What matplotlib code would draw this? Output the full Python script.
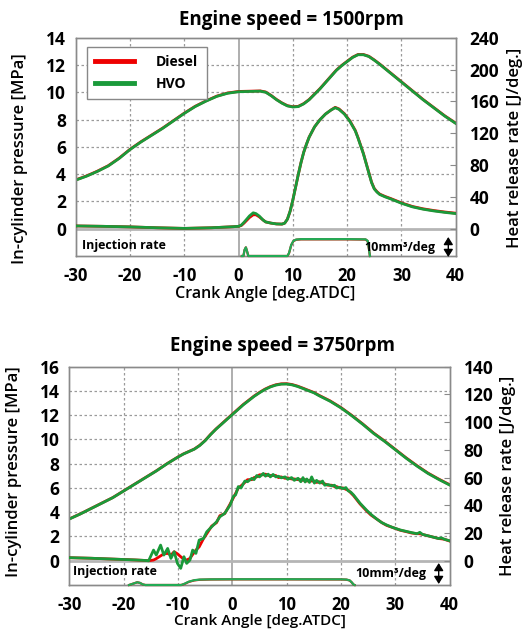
import matplotlib
matplotlib.use("Agg")
import matplotlib.pyplot as plt
from matplotlib.lines import Line2D
from matplotlib.patches import FancyArrowPatch

plt.rcParams['font.family'] = ['Open Sans', 'DejaVu Sans']
plt.rcParams['font.weight'] = 'bold'

# ---------------- data: 1500 rpm ----------------
x_p1 = [-30, -28, -26, -24, -22, -20, -18, -16, -14, -12, -10, -8, -6, -4, -2, 0, 2, 4, 5, 6, 7, 8, 9, 10,
        11, 12, 13, 14, 15, 16, 17, 18, 19, 20, 21, 22, 23, 24, 25, 26, 28, 30, 32, 34, 36, 38, 40]
p1_hvo = [3.56, 3.85, 4.2, 4.6, 5.15, 5.8, 6.35, 6.85, 7.35, 7.9, 8.45, 8.95, 9.35, 9.7, 9.93, 10.04, 10.06,
          10.08, 10.0, 9.75, 9.45, 9.2, 9.0, 8.92, 8.95, 9.15, 9.45, 9.85, 10.25, 10.7, 11.15, 11.6, 11.95,
          12.25, 12.55, 12.75, 12.75, 12.62, 12.35, 12.05, 11.4, 10.75, 10.1, 9.45, 8.85, 8.25, 7.72]
p1_diesel = [3.58, 3.87, 4.22, 4.62, 5.17, 5.82, 6.37, 6.87, 7.37, 7.92, 8.47, 8.97, 9.37, 9.72, 9.95, 10.06,
             10.08, 10.1, 10.02, 9.77, 9.47, 9.22, 9.02, 8.94, 8.97, 9.17, 9.47, 9.87, 10.27, 10.72, 11.17,
             11.62, 11.97, 12.27, 12.57, 12.77, 12.77, 12.64, 12.37, 12.07, 11.42, 10.77, 10.12, 9.47, 8.87,
             8.27, 7.74]

x_q1 = [-30, -25, -20, -15, -10, -5, -1, 0, 0.5, 1, 1.5, 2, 2.7, 3.2, 3.8, 4.5, 5, 6, 7, 8, 8.5, 9, 9.5, 10,
        10.5, 11, 11.5, 12, 12.5, 13, 14, 15, 16, 17, 17.8, 18.5, 19.5, 20.5, 21.5, 22, 22.5, 23, 23.5, 24,
        24.5, 25, 25.5, 26, 27, 28, 30, 32, 34, 36, 38, 40]
q1_hvo = [3.5, 3.0, 2.3, 1.2, 0.4, 1.2, 2.5, 3.0, 4.5, 8, 12, 16, 20, 19, 16, 11, 8.5, 7, 6, 5.8, 7, 12, 22,
          36, 52, 68, 83, 96, 106, 115, 128, 137, 144, 149, 152, 150, 144, 135, 123, 114, 104, 94, 82, 70,
          58, 50, 46, 43, 40, 37.5, 32, 27.5, 24.5, 22.3, 20.5, 19]
q1_diesel = [3.5, 3.0, 2.3, 1.2, 0.4, 1.2, 2.5, 3.0, 4.0, 7, 10.5, 14, 17.5, 17.5, 15, 11, 8.5, 7, 6, 5.8, 7,
             12, 22, 36, 52, 68, 83, 96, 106, 115, 128, 137, 144, 149, 152.5, 150.5, 144.5, 135.5, 123.5,
             114.5, 104.5, 94.5, 82.5, 70.5, 58.5, 50.5, 46.5, 43.5, 40.5, 38, 32.5, 28, 25, 22.8, 21, 19.5]

x_i1 = [0.6, 0.9, 1.1, 1.35, 1.6, 1.8, 2.2, 9.0, 9.3, 9.7, 10.1, 10.6, 11.5, 20, 23.4, 23.8, 24.0, 24.2]
i1_hvo = [0, 0, 3.0, 4.3, 2.0, 0, 0, 0, 1.5, 5.5, 7.5, 8.2, 8.4, 8.4, 8.3, 7.5, 4.0, 0]
i1_diesel = [0, 0, 3.0, 4.3, 2.0, 0, 0, 0, 1.4, 5.4, 7.4, 8.1, 8.3, 8.3, 8.2, 7.4, 3.9, 0]

# ---------------- data: 3750 rpm ----------------
x_p2 = [-30, -28, -26, -24, -22, -20, -18, -16, -14, -12, -10, -9, -8, -7, -6, -5, -4, -3, -2, -1, 0, 1, 2,
        3, 4, 5, 6, 7, 8, 9, 10, 11, 12, 13, 14, 15, 16, 18, 20, 22, 24, 26, 28, 30, 32, 34, 36, 38, 40]
p2_hvo = [3.44, 3.85, 4.3, 4.75, 5.2, 5.75, 6.3, 6.85, 7.4, 8.0, 8.55, 8.8, 9.0, 9.2, 9.5, 9.9, 10.4, 10.85,
          11.25, 11.65, 12.05, 12.45, 12.85, 13.2, 13.55, 13.85, 14.12, 14.33, 14.48, 14.56, 14.57, 14.5,
          14.37, 14.2, 14.02, 13.85, 13.6, 13.15, 12.6, 11.95, 11.25, 10.5, 9.85, 9.15, 8.45, 7.8, 7.2,
          6.7, 6.24]
p2_diesel = [3.45, 3.86, 4.31, 4.76, 5.21, 5.76, 6.31, 6.86, 7.41, 8.01, 8.56, 8.81, 9.01, 9.21, 9.52, 9.92,
             10.42, 10.87, 11.27, 11.68, 12.08, 12.48, 12.88, 13.23, 13.58, 13.88, 14.15, 14.36, 14.51,
             14.59, 14.6, 14.53, 14.4, 14.23, 14.05, 13.88, 13.63, 13.18, 12.63, 11.98, 11.28, 10.53, 9.88,
             9.18, 8.48, 7.83, 7.23, 6.73, 6.27]

x_q2 = [-30, -26, -22, -18, -16, -15.4, -14.5, -14.0, -13.2, -12.6, -11.9, -11.3, -10.7, -10.1, -9.5, -8.9,
        -8.4, -7.8, -7.3, -6.7, -6.1, -5.3, -4.7, -3.8, -2.9, -2.3, -1.4, -0.4, 0.2, 0.6, 1.1, 1.6, 2.3,
        2.8, 3.6, 4.0, 4.5, 5.0, 5.7, 6.1, 6.6, 7.0, 7.5, 8.0, 8.5, 9.0, 9.7, 10.2, 10.9, 11.4, 12.1, 12.6,
        13.0, 13.4, 13.7, 14.2, 14.6, 15.1, 15.5, 16.1, 16.6, 17.0, 17.6, 18.3, 18.8, 19.2, 19.8, 20.4,
        20.9, 21.3, 21.8, 22.3, 23.0, 23.5, 24.1, 24.7, 25.5, 26.6, 27.5, 28.4, 29.5, 30.9, 32.0, 33.0,
        34.0, 34.5, 35.0, 36.0, 37.0, 38.0, 38.5, 39.0, 40.0]
q2_hvo = [2.2, 1.8, 1.2, 0.6, 0.2, 0.0, 7.7, 4.1, 11.3, 4.1, 8.9, 1.7, 6.5, -1.9, -5.5, 2.9, -1.9, 0.5, 7.7,
          5.3, 14.9, 16.1, 20.9, 24.5, 28.1, 31.7, 34.2, 40.2, 46.5, 47.5, 53.5, 52.5, 57.5, 57.0, 59.5,
          58.5, 61.5, 60.5, 63.0, 61.0, 62.5, 60.5, 62.3, 60.5, 61.0, 59.8, 60.5, 58.8, 60.0, 58.0, 59.5,
          57.0, 60.0, 56.8, 59.0, 56.5, 60.5, 56.0, 58.0, 56.0, 57.5, 54.5, 55.0, 54.0, 54.5, 52.5, 53.0,
          52.0, 52.8, 50.5, 49.5, 47.5, 44.0, 41.5, 39.0, 36.5, 33.5, 30.0, 27.5, 25.8, 24.0, 22.2, 21.2,
          20.3, 19.5, 20.5, 19.0, 18.0, 17.0, 16.0, 16.5, 15.5, 14.4]
q2_diesel = [2.2, 1.8, 1.2, 0.6, 0.2, 0.0, 0.5, 1.5, 3.5, 5.0, 5.3, 4.1, 6.5, 5.0, 2.9, 1.0, 0.5, 1.7, 4.5,
             7.7, 10.0, 16.0, 19.5, 25.0, 27.5, 32.5, 34.0, 41.0, 45.5, 48.5, 52.5, 54.0, 56.5, 58.5, 58.5,
             60.0, 60.5, 62.0, 62.0, 62.5, 61.5, 61.5, 61.5, 61.5, 60.0, 60.5, 59.5, 59.8, 59.0, 59.0, 58.5,
             58.5, 58.0, 58.5, 57.5, 58.0, 57.5, 57.5, 56.5, 57.0, 56.0, 55.5, 54.5, 54.5, 53.5, 53.5, 52.5,
             52.5, 51.5, 51.0, 49.0, 47.0, 43.5, 41.0, 38.5, 36.0, 33.0, 30.0, 27.5, 25.5, 24.0, 22.0, 21.0,
             20.0, 19.5, 19.5, 19.0, 18.0, 17.0, 16.0, 15.8, 15.5, 14.2]

x_i2 = [-19.0, -18.3, -17.5, -17.0, -16.5, -16.0, -9.4, -8.8, -8.0, -7.0, -6.0, -4.0, 0, 10, 20, 21.0, 21.6,
        22.0, 22.3, 22.5]
i2_hvo = [0, 0.6, 1.3, 1.0, 0.3, 0, 0, 0.6, 1.6, 2.3, 2.6, 2.7, 2.75, 2.75, 2.7, 2.6, 2.2, 1.2, 0.2, 0]
i2_diesel = [0, 0.6, 1.3, 1.0, 0.3, 0, 0, 0.5, 1.5, 2.2, 2.5, 2.65, 2.7, 2.7, 2.65, 2.55, 2.15, 1.15, 0.2, 0]

x_ticks = [-30, -20, -10, 0, 10, 20, 30, 40]

RED = '#ee0000'
GREEN = '#1a9a3a'
GRID = '#9a9a9a'
SPINE = '#8a8a8a'

W, H = 523, 629
fig = plt.figure(figsize=(W / 100, H / 100), dpi=100)


def px_axes(l, t, r, b):
    return fig.add_axes([l / W, 1 - b / H, (r - l) / W, (b - t) / H])


def make_panel(l, t, r, b, pmax, pticks, qmax, qticks, xp, pd, ph, xq, qd, qh, xi, idl, ih, inj_scale):
    ax = px_axes(l, t, r, b)
    ax.set_xlim(-30, 40)
    ax.set_ylim(-2, pmax)
    frac0 = 2.0 / (pmax + 2.0)
    axr = ax.twinx()
    axr.set_ylim(-qmax * frac0 / (1 - frac0), qmax)

    # grid
    for xv in [-20, -10, 10, 20, 30]:
        ax.axvline(xv, color=GRID, lw=0.9, ls=(0, (2, 2)), zorder=1)
    for yv in pticks[1:-1]:
        ax.axhline(yv, color=GRID, lw=0.9, ls=(0, (2, 2)), zorder=1)
    ax.axvline(0, color='#999999', lw=1.1, zorder=1.5)
    ax.axhline(0, color='#b5b5b5', lw=2.0, zorder=1.5)

    ax.plot(xp, pd, color=RED, lw=2.0, zorder=3)
    ax.plot(xp, ph, color=GREEN, lw=2.0, zorder=4)
    axr.plot(xq, qd, color=RED, lw=2.0, zorder=3)
    axr.plot(xq, qh, color=GREEN, lw=2.0, zorder=4)

    ax.set_xticks(x_ticks)
    ax.set_xticklabels([str(v) for v in x_ticks])
    ax.set_yticks(pticks)
    ax.set_yticklabels([str(v) for v in pticks])
    axr.set_yticks(qticks)
    axr.set_yticklabels([str(v) for v in qticks])
    ax.tick_params(axis='x', length=0, pad=8, labelsize=12)
    ax.tick_params(axis='y', length=0, pad=7, labelsize=12.5)
    axr.tick_params(axis='y', direction='in', length=4, color=SPINE, pad=10, labelsize=12.5)
    for a in (ax, axr):
        for s in a.spines.values():
            s.set_color(SPINE)
            s.set_linewidth(1.0)

    # injection band axes
    band_h = (b - t) * frac0
    axi = px_axes(l, b - band_h, r, b)
    axi.set_xlim(-30, 40)
    axi.set_ylim(0, inj_scale)
    axi.axis('off')
    axi.patch.set_alpha(0)
    axi.plot(xi, idl, color=RED, lw=1.6, clip_on=False)
    axi.plot(xi, ih, color='#22aa55', lw=1.6, clip_on=False)
    return ax, axr


# top panel
ax1, ax1r = make_panel(75.7, 37.7, 455.7, 256.0, 14, [0, 2, 4, 6, 8, 10, 12, 14], 240,
                       [0, 40, 80, 120, 160, 200, 240], x_p1, p1_diesel, p1_hvo, x_q1, q1_diesel, q1_hvo,
                       x_i1, i1_diesel, i1_hvo, 13.6)
# bottom panel
ax2, ax2r = make_panel(69.3, 366.7, 449.7, 585.0, 16, [0, 2, 4, 6, 8, 10, 12, 14, 16], 140,
                       [0, 20, 40, 60, 80, 100, 120, 140], x_p2, p2_diesel, p2_hvo, x_q2, q2_diesel, q2_hvo,
                       x_i2, i2_diesel, i2_hvo, 11.6)

# legend
handles = [Line2D([], [], color=RED, lw=3.5), Line2D([], [], color=GREEN, lw=3.5)]
leg = ax1.legend(handles, ['Diesel', 'HVO'], loc='upper left', bbox_to_anchor=(0.029, 0.959),
                 borderaxespad=0, fancybox=False, framealpha=1, edgecolor='#888888',
                 prop={'size': 10, 'weight': 'bold'}, handlelength=2.8, handletextpad=1.6,
                 borderpad=0.6, labelspacing=0.55)
leg.get_frame().set_linewidth(1.0)
leg.set_zorder(10)


def ftext(x, y, s, **kw):
    fig.text(x / W, 1 - y / H, s, **kw)


# titles and labels
ftext(291, 20, 'Engine speed = 1500rpm', ha='center', va='center', fontsize=13.5, fontweight='bold')
ftext(283, 346, 'Engine speed = 3750rpm', ha='center', va='center', fontsize=13.5, fontweight='bold')
ftext(265, 293.5, 'Crank Angle [deg.ATDC]', ha='center', va='center', fontsize=11.5, fontweight='semibold')
ftext(260, 620.5, 'Crank Angle [deg.ATDC]', ha='center', va='center', fontsize=11, fontweight='semibold')
ftext(20.5, 159, 'In-cylinder pressure [MPa]', ha='center', va='center', rotation=90, fontsize=12,
      fontweight='semibold')
ftext(14, 472, 'In-cylinder pressure [MPa]', ha='center', va='center', rotation=90, fontsize=12,
      fontweight='semibold')
ftext(515, 148, 'Heat release rate [J/deg.]', ha='center', va='center', rotation=90, fontsize=12,
      fontweight='semibold')
ftext(508, 476, 'Heat release rate [J/deg.]', ha='center', va='center', rotation=90, fontsize=12,
      fontweight='semibold')

# injection annotations
ftext(82.5, 246, 'Injection rate', ha='left', va='center', fontsize=9, fontweight='bold')
ftext(400, 248, '10mm³/deg', ha='center', va='center', fontsize=9, fontweight='bold')
ftext(73, 572, 'Injection rate', ha='left', va='center', fontsize=9, fontweight='bold')
ftext(391, 574, '10mm³/deg', ha='center', va='center', fontsize=9, fontweight='bold')

for (xa, y0, y1) in [(448.3, 237, 257), (438.7, 563, 584)]:
    fig.add_artist(FancyArrowPatch((xa / W, 1 - y0 / H), (xa / W, 1 - y1 / H),
                                   transform=fig.transFigure,
                                   arrowstyle='<|-|>,head_length=0.45,head_width=0.28',
                                   mutation_scale=10, shrinkA=0, shrinkB=0,
                                   color='black', lw=1.0))

fig.savefig('out.png', dpi=100)
